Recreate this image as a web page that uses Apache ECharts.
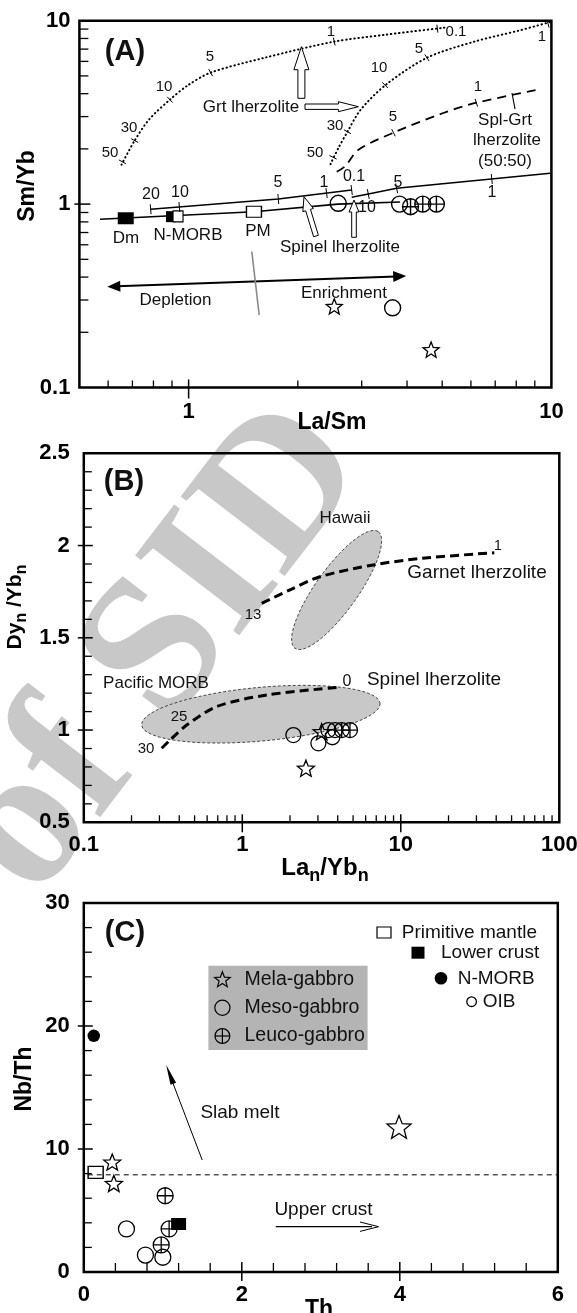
<!DOCTYPE html>
<html><head><meta charset="utf-8"><title>Sm/Yb, Dy/Yb, Nb/Th diagrams</title>
<script src="https://cdn.jsdelivr.net/npm/echarts@6.0.0/dist/echarts.min.js"></script>
<style>html,body{margin:0;padding:0;background:#fff;}#chart{width:577px;height:1313px;}</style>
</head><body><div id="chart"></div>
<script>
const FF = '"Liberation Sans", Arial, Helvetica, sans-serif';

// ================= Panel A : Sm/Yb vs La/Sm =================
const A_xLabels = [1, 10];
const A_yLabels = [0.1, 1, 10];
const A_xMinorTicks = [0.6, 0.7, 0.8, 0.9, 2, 3, 4, 5, 6, 7, 8, 9];
const A_xMajorTicks = [1];
const A_yMinorTicks = [0.2, 0.3, 0.4, 0.5, 0.6, 0.7, 0.8, 0.9, 2, 3, 4, 5, 6, 7, 8, 9];
const A_yMajorTicks = [1];
const A_dm = [[0.671, 0.837]];
const A_nmorbFilled = [[0.894, 0.854]];
const A_nmorbOpen = [[0.935, 0.857]];
const A_pm = [[1.514, 0.909]];
const A_mela = [[2.52, 0.277], [4.66, 0.161]];
const A_meso = [[2.585, 1.01], [3.815, 1.0], [3.65, 0.272]];
const A_leuco = [[4.09, 0.968], [4.42, 1.0], [4.82, 1.0]];
const A_grtCurve1 = [[0.653, 1.64], [0.710, 2.22], [0.778, 2.89], [0.888, 3.71], [0.993, 4.43], [1.15, 5.21], [1.62, 6.28], [2.52, 7.69], [3.50, 8.39], [5.07, 9.16]];
const A_grtCurve1Ticks = [[0.657, 1.70], [0.710, 2.22], [0.888, 3.71], [1.15, 5.21], [2.52, 7.69], [4.85, 9.05]];
const A_grtCurve2 = [[2.46, 1.65], [2.59, 2.03], [2.74, 2.48], [2.98, 3.27], [3.50, 4.48], [4.54, 6.28], [6.13, 7.69], [8.11, 8.82], [10, 9.88]];
const A_grtCurve2Ticks = [[2.50, 1.80], [2.74, 2.48], [3.48, 4.45], [4.54, 6.28], [9.79, 9.62]];
const A_splGrtCurve = [[2.56, 1.50], [2.70, 1.61], [2.94, 1.98], [3.67, 2.45], [4.97, 3.11], [6.21, 3.57], [9.20, 4.21]];
const A_splGrtTicks = [[3.67, 2.45], [6.21, 3.57]];
const A_splCurve1 = [[0.786, 0.937], [1.767, 1.066], [2.815, 1.194]];
const A_splCurve1Ticks = [[0.786, 0.937], [0.943, 0.964], [1.767, 1.066], [2.40, 1.149], [2.815, 1.194]];
const A_splCurve2 = [[2.815, 1.089], [3.128, 1.135], [3.745, 1.219], [9.92, 1.472]];
const A_splCurve2Ticks = [[3.128, 1.135], [3.745, 1.219], [6.85, 1.370]];
const A_mixLine = [[0.570, 0.826], [1.514, 0.909], [2.58, 1.0], [3.824, 1.027]];

// ================= Panel B : Dyn/Ybn vs Lan/Ybn =================
const B_xLabels = [0.1, 1, 10, 100];
const B_xMinorTicks = [0.2, 0.3, 0.4, 0.5, 0.6, 0.7, 0.8, 0.9, 2, 3, 4, 5, 6, 7, 8, 9, 20, 30, 40, 50, 60, 70, 80, 90];
const B_xMajorTicks = [1, 10];
const B_yMinorTicks = [0.6, 0.7, 0.8, 0.9, 1.1, 1.2, 1.3, 1.4, 1.6, 1.7, 1.8, 1.9, 2.1, 2.2, 2.3, 2.4];
const B_yMajorTicks = [1, 1.5, 2];
const B_mela = [[2.52, 0.793], [3.17, 0.991]];
const B_meso = [[2.10, 0.973], [3.02, 0.928], [3.70, 0.961], [3.49, 1.0], [3.85, 1.0]];
const B_leuco = [[4.24, 1.0], [4.78, 1.0]];
const B_grtCurve = [[1.326, 1.687], [2.0, 1.760], [3.09, 1.831], [6.71, 1.895], [13.7, 1.931], [38.9, 1.961]];
const B_splCurve = [[0.310, 0.901], [0.350, 0.946], [0.446, 1.027], [0.690, 1.127], [1.426, 1.190], [4.13, 1.232]];
// fields: two ends of the long axis, then one end of the short axis
const B_morbField = [[0.232, 1.027], [7.39, 1.145], [1.308, 1.232]];
const B_hawaiiField = [[2.15, 1.443], [7.21, 2.075], [5.05, 1.693]];

// ================= Panel C : Nb/Th vs Th =================
const C_xMinorTicks = [0.4, 0.8, 1.2, 1.6, 2.4, 2.8, 3.2, 3.6, 4.4, 4.8, 5.2, 5.6];
const C_xMajorTicks = [2, 4];
const C_yMinorTicks = [2, 4, 6, 8, 12, 14, 16, 18, 22, 24, 26, 28];
const C_yMajorTicks = [10, 20];
const C_primitiveMantle = [[0.15, 8.1]];
const C_lowerCrust = [[1.2, 3.9]];
const C_nmorb = [[0.126, 19.2]];
const C_mela = [[0.36, 8.94], [0.38, 7.2], [3.99, 11.8]];
const C_meso = [[0.54, 3.5], [0.78, 1.38], [1.0, 1.2]];
const C_leuco = [[1.03, 6.2], [1.08, 3.5], [0.98, 2.2]];
const C_refLine = [[0.05, 7.9], [6, 7.9]];

// ---------------- helpers ----------------
function starPts(cx, cy, R, r) {
  const pts = [];
  for (let k = 0; k < 10; k++) {
    const ang = -Math.PI / 2 + k * Math.PI / 5;
    const rr = k % 2 === 0 ? R : r;
    pts.push([cx + rr * Math.cos(ang), cy + rr * Math.sin(ang)]);
  }
  return pts;
}
const STAR = 'path://' + starPts(10, 10, 10, 4.3).map((p, i) => (i ? 'L' : 'M') + p[0].toFixed(2) + ',' + p[1].toFixed(2)).join('') + 'Z';
const XCIRC = 'path://M0,8A8,8,0,1,1,16,8A8,8,0,1,1,0,8ZM0,8L16,8M8,0L8,16';
const NOFILL = 'rgba(0,0,0,0)';

function labelFmt(list) {
  return function (v) {
    for (const l of list) { if (Math.abs(v - l) <= 1e-6 * Math.abs(l)) return String(l); }
    return '';
  };
}
function sc(gi, data, symbol, size, fill, bw, keep) {
  return { type: 'scatter', xAxisIndex: gi, yAxisIndex: gi, data, symbol, symbolSize: size, symbolKeepAspect: !!keep,
    itemStyle: { color: fill, borderColor: '#000', borderWidth: bw, opacity: 1 }, silent: true, z: 6, emphasis: { disabled: true } };
}
function ln(gi, data, width, type, smooth, cap) {
  return { type: 'line', xAxisIndex: gi, yAxisIndex: gi, data, symbol: 'none', smooth: smooth || false, silent: true, z: 3,
    lineStyle: { color: '#000', width, type, cap: cap || 'butt' }, emphasis: { disabled: true } };
}
function axisTicks(gi, dim, values, atValue, inLen, outLen, w) {
  return { type: 'custom', xAxisIndex: gi, yAxisIndex: gi, clip: false, silent: true, z: 8,
    data: values.map(v => dim === 'x' ? [v, atValue] : [atValue, v]),
    renderItem: function (params, api) {
      const p = api.coord([api.value(0), api.value(1)]);
      const shape = dim === 'x' ? { x1: p[0], y1: p[1] + outLen, x2: p[0], y2: p[1] - inLen }
                                : { x1: p[0] - outLen, y1: p[1], x2: p[0] + inLen, y2: p[1] };
      return { type: 'line', shape, style: { stroke: '#000', lineWidth: w } };
    } };
}
function curveTicks(gi, curve, ticks, half) {
  return { type: 'custom', xAxisIndex: gi, yAxisIndex: gi, clip: false, silent: true, z: 7,
    data: ticks,
    renderItem: function (params, api) {
      const p = api.coord([api.value(0), api.value(1)]);
      const pts = curve.map(c => api.coord(c));
      let best = [1, 0], bd = Infinity;
      for (let i = 0; i < pts.length - 1; i++) {
        const a = pts[i], b = pts[i + 1], dx = b[0] - a[0], dy = b[1] - a[1];
        const L2 = dx * dx + dy * dy || 1;
        let t = ((p[0] - a[0]) * dx + (p[1] - a[1]) * dy) / L2; t = Math.max(0, Math.min(1, t));
        const qx = a[0] + t * dx - p[0], qy = a[1] + t * dy - p[1], d = qx * qx + qy * qy;
        if (d < bd) { bd = d; best = [dx, dy]; }
      }
      const L = Math.hypot(best[0], best[1]) || 1, nx = -best[1] / L, ny = best[0] / L;
      return { type: 'line', shape: { x1: p[0] - nx * half, y1: p[1] - ny * half, x2: p[0] + nx * half, y2: p[1] + ny * half },
        style: { stroke: '#000', lineWidth: 1 } };
    } };
}
function field(gi, f) {
  return { type: 'custom', xAxisIndex: gi, yAxisIndex: gi, silent: true, z: 1,
    data: [[f[0][0], f[0][1], f[1][0], f[1][1], f[2][0], f[2][1]]],
    renderItem: function (params, api) {
      const p1 = api.coord([api.value(0), api.value(1)]);
      const p2 = api.coord([api.value(2), api.value(3)]);
      const m = api.coord([api.value(4), api.value(5)]);
      const cx = (p1[0] + p2[0]) / 2, cy = (p1[1] + p2[1]) / 2;
      const dx = p2[0] - p1[0], dy = p2[1] - p1[1];
      const a = Math.hypot(dx, dy) / 2, ux = dx / (2 * a), uy = dy / (2 * a);
      const b = Math.abs((m[0] - cx) * (-uy) + (m[1] - cy) * ux);
      const points = [];
      for (let k = 0; k < 90; k++) {
        const t = k / 90 * 2 * Math.PI, u = a * Math.cos(t), v = b * Math.sin(t);
        points.push([cx + u * ux - v * uy, cy + u * uy + v * ux]);
      }
      return { type: 'polygon', shape: { points }, style: { fill: '#c8c8c8', stroke: '#333', lineWidth: 0.9, lineDash: [3, 2] } };
    } };
}

// ---------------- graphic annotations ----------------
const G = [];
function txt(x, y, text, size, o) {
  o = o || {};
  const st = { text, fontSize: size, fontFamily: o.ff || FF, fontWeight: o.bold ? 'bold' : 'normal', fill: o.fill || '#111',
    align: o.align || 'center', verticalAlign: 'middle', textAlign: o.align || 'center', textVerticalAlign: 'middle' };
  G.push({ type: 'text', x, y, rotation: o.rot || 0, z: o.z === undefined ? 20 : o.z, silent: true, style: st });
}
const mctx = document.createElement('canvas').getContext('2d');
function textWidth(t, size) { mctx.font = 'bold ' + size + 'px ' + FF; return mctx.measureText(t).width; }
// title with subscripts: parts = [[text, isSub], ...]
function subTitle(cx, cy, parts, rot, ms, ss, dy) {
  const widths = parts.map(p => textWidth(p[0], p[1] ? ss : ms));
  const W = widths.reduce((a, b) => a + b, 0);
  let off = -W / 2;
  const children = [];
  parts.forEach((p, i) => {
    children.push({ type: 'text', x: off, y: p[1] ? dy : 0, silent: true,
      style: { text: p[0], fontSize: p[1] ? ss : ms, fontWeight: 'bold', fontFamily: FF, fill: '#000',
        align: 'left', verticalAlign: 'middle', textAlign: 'left', textVerticalAlign: 'middle' } });
    off += widths[i];
  });
  G.push({ type: 'group', x: cx, y: cy, rotation: rot || 0, z: 20, children });
}
function gline(x1, y1, x2, y2, w, color, dash) {
  G.push({ type: 'line', z: 20, silent: true, shape: { x1, y1, x2, y2 }, style: { stroke: color || '#000', lineWidth: w, lineDash: dash || null } });
}
function hollowArrow(tail, tip, headLen, headHalf, shaftHalf) {
  const dx = tip[0] - tail[0], dy = tip[1] - tail[1], L = Math.hypot(dx, dy), ux = dx / L, uy = dy / L, nx = -uy, ny = ux;
  const bx = tip[0] - ux * headLen, by = tip[1] - uy * headLen;
  const pts = [tip, [bx + nx * headHalf, by + ny * headHalf], [bx + nx * shaftHalf, by + ny * shaftHalf],
    [tail[0] + nx * shaftHalf, tail[1] + ny * shaftHalf], [tail[0] - nx * shaftHalf, tail[1] - ny * shaftHalf],
    [bx - nx * shaftHalf, by - ny * shaftHalf], [bx - nx * headHalf, by - ny * headHalf]];
  G.push({ type: 'polygon', z: 20, silent: true, shape: { points: pts }, style: { fill: '#fff', stroke: '#000', lineWidth: 1 } });
}
function headTri(from, tip, len, half) {
  const dx = tip[0] - from[0], dy = tip[1] - from[1], L = Math.hypot(dx, dy), ux = dx / L, uy = dy / L, nx = -uy, ny = ux;
  const bx = tip[0] - ux * len, by = tip[1] - uy * len;
  G.push({ type: 'polygon', z: 20, silent: true, shape: { points: [tip, [bx + nx * half, by + ny * half], [bx - nx * half, by - ny * half]] }, style: { fill: '#000' } });
}

// watermark
txt(162, 651, 'of SID', 200, { rot: 0.918, ff: '"Liberation Serif", "DejaVu Serif", serif', bold: true, fill: '#c8c8c8', z: -1 });

// ---- Panel A annotations
txt(125, 52, '(A)', 29, { bold: true });
const numA = 15;
txt(110, 153, '50', numA); txt(129, 128, '30', numA); txt(164, 87, '10', numA); txt(210, 57, '5', numA); txt(331, 32, '1', numA); txt(456, 32, '0.1', numA);
txt(315, 153, '50', numA); txt(335, 126, '30', numA); txt(379, 68, '10', numA); txt(419, 49, '5', numA); txt(542, 37, '1', numA);
txt(393, 117, '5', numA); txt(478, 87, '1', numA);
txt(151, 195, '20', 16); txt(180, 193, '10', 16); txt(278, 183, '5', 16); txt(324, 183, '1', 16); txt(354, 177, '0.1', 16);
txt(398, 183, '5', 16); txt(492, 193, '1', 16); txt(367, 208, '10', 16);
txt(251, 107, 'Grt lherzolite', 17);
txt(505, 120, 'Spl-Grt', 17); txt(507, 140, 'lherzolite', 17); txt(505, 161, '(50:50)', 17);
gline(512, 93, 515, 109, 1.2);
hollowArrow([301.4, 98.3], [301.4, 46.7], 23, 7.5, 3.5);
hollowArrow([305, 106.7], [358.4, 106.7], 20, 5, 2.7);
hollowArrow([316, 236], [304, 196.7], 14, 5.5, 2.5);
hollowArrow([354, 237.3], [354, 200], 12, 5, 2.3);
txt(126, 238, 'Dm', 17); txt(188, 235, 'N-MORB', 17); txt(258, 231, 'PM', 17); txt(340, 247, 'Spinel lherzolite', 17);
gline(117, 286.3, 396, 276.4, 2);
headTri([406.2, 276], [107.3, 286.7], 13, 5.5);
headTri([107.3, 286.7], [406.2, 276], 13, 5.5);
gline(251.8, 251.7, 259.2, 315, 1.6, '#8a8a8a');
txt(175.5, 300, 'Depletion', 17); txt(344, 293, 'Enrichment', 17);
// axis titles A
txt(332, 423, 'La/Sm', 23, { bold: true, fill: '#000' });
txt(27.6, 186, 'Sm/Yb', 23, { bold: true, fill: '#000', rot: Math.PI / 2 });

// ---- Panel B annotations
txt(124, 482, '(B)', 29, { bold: true });
txt(345, 518, 'Hawaii', 17);
txt(477, 573, 'Garnet lherzolite', 19);
txt(498, 546, '1', 14);
txt(253, 615, '13', 15);
txt(156, 683, 'Pacific MORB', 17);
txt(347, 682, '0', 16);
txt(434, 680, 'Spinel lherzolite', 19);
txt(179, 717, '25', 15);
txt(146, 749, '30', 15);
subTitle(325, 868, [['La', 0], ['n', 1], ['/Yb', 0], ['n', 1]], 0, 24, 18, 8);
subTitle(15, 607, [['Dy', 0], ['n', 1], [' /Yb', 0], ['n', 1]], Math.PI / 2, 21, 16, 7);

// ---- Panel C annotations
txt(125, 933, '(C)', 29, { bold: true });
G.push({ type: 'rect', z: 15, silent: true, shape: { x: 208.4, y: 965.7, width: 159.2, height: 84.3 }, style: { fill: '#b4b4b4' } });
G.push({ type: 'polygon', z: 20, silent: true, shape: { points: starPts(222.4, 980, 8.2, 3.5) }, style: { fill: NOFILL, stroke: '#000', lineWidth: 1.2 } });
G.push({ type: 'circle', z: 20, silent: true, shape: { cx: 222.4, cy: 1007.7, r: 7.6 }, style: { fill: NOFILL, stroke: '#000', lineWidth: 1.2 } });
G.push({ type: 'circle', z: 20, silent: true, shape: { cx: 222.4, cy: 1036, r: 7.4 }, style: { fill: NOFILL, stroke: '#000', lineWidth: 1.2 } });
gline(215, 1036, 229.8, 1036, 1.2); gline(222.4, 1028.6, 222.4, 1043.4, 1.2);
txt(244.5, 979.3, 'Mela-gabbro', 19.5, { align: 'left' });
txt(244.5, 1007.7, 'Meso-gabbro', 19.5, { align: 'left' });
txt(244.5, 1036, 'Leuco-gabbro', 19.5, { align: 'left' });
G.push({ type: 'rect', z: 20, silent: true, shape: { x: 377, y: 927, width: 14, height: 11 }, style: { fill: '#fff', stroke: '#000', lineWidth: 1.2 } });
G.push({ type: 'rect', z: 20, silent: true, shape: { x: 411.5, y: 946.7, width: 13, height: 12 }, style: { fill: '#000' } });
G.push({ type: 'circle', z: 20, silent: true, shape: { cx: 441, cy: 978.3, r: 6.3 }, style: { fill: '#000' } });
G.push({ type: 'circle', z: 20, silent: true, shape: { cx: 471.6, cy: 1001.7, r: 4.8 }, style: { fill: '#fff', stroke: '#000', lineWidth: 1.3 } });
txt(401.8, 932.3, 'Primitive mantle', 19, { align: 'left' });
txt(441, 952.7, 'Lower crust', 19, { align: 'left' });
txt(457.7, 978.3, 'N-MORB', 19, { align: 'left' });
txt(482.7, 1001.7, 'OIB', 19, { align: 'left' });
gline(202.2, 1160, 168.5, 1071.5, 1);
headTri([202.2, 1160], [166.2, 1065], 20, 3);
txt(240, 1113, 'Slab melt', 19);
gline(275.7, 1226.7, 372, 1226.7, 1.2);
G.push({ type: 'polyline', z: 20, silent: true, shape: { points: [[360, 1222], [378.6, 1226.7], [360, 1231.4]] }, style: { stroke: '#000', lineWidth: 1, fill: null } });
txt(323.5, 1210, 'Upper crust', 19);
txt(319, 1310, 'Th', 23, { bold: true, fill: '#000' });
txt(24.8, 1079, 'Nb/Th', 23, { bold: true, fill: '#000', rot: Math.PI / 2 });

// ---------------- chart option ----------------
const tickLabel = (margin, fmt) => ({ margin, fontSize: 22, fontWeight: 'bold', fontFamily: FF, color: '#000', showMinLabel: true, showMaxLabel: true, hideOverlap: false, formatter: fmt });
const bareAxis = { axisLine: { show: false }, axisTick: { show: false }, minorTick: { show: false }, splitLine: { show: false }, minorSplitLine: { show: false } };
const gridBox = { show: true, borderColor: '#000', borderWidth: 2.5, backgroundColor: 'rgba(0,0,0,0)', containLabel: false, outerBoundsMode: 'none' };

const option = {
  animation: false,
  backgroundColor: '#fff',
  grid: [
    Object.assign({ left: 79.4, top: 20.7, width: 472, height: 366.8 }, gridBox),
    Object.assign({ left: 83.8, top: 453.3, width: 475.5, height: 369 }, gridBox),
    Object.assign({ left: 83.8, top: 903, width: 474, height: 369 }, gridBox)
  ],
  xAxis: [
    Object.assign({ gridIndex: 0, type: 'log', logBase: 10, min: 0.5, max: 10, axisLabel: tickLabel(13, labelFmt(A_xLabels)) }, bareAxis),
    Object.assign({ gridIndex: 1, type: 'log', logBase: 10, min: 0.1, max: 100, axisLabel: tickLabel(12, labelFmt(B_xLabels)) }, bareAxis),
    Object.assign({ gridIndex: 2, type: 'value', min: 0, max: 6, interval: 2, axisLabel: tickLabel(12) }, bareAxis)
  ],
  yAxis: [
    Object.assign({ gridIndex: 0, type: 'log', logBase: 10, min: 0.1, max: 10, axisLabel: tickLabel(9, labelFmt(A_yLabels)) }, bareAxis),
    Object.assign({ gridIndex: 1, type: 'value', min: 0.5, max: 2.5, interval: 0.5, axisLabel: tickLabel(14) }, bareAxis),
    Object.assign({ gridIndex: 2, type: 'value', min: 0, max: 30, interval: 10, axisLabel: tickLabel(14) }, bareAxis)
  ],
  graphic: { elements: G },
  series: [
    // axis ticks
    axisTicks(0, 'x', A_xMinorTicks, 0.1, 7, 0, 1.3), axisTicks(0, 'x', A_xMajorTicks, 0.1, 8, 11, 1.5),
    axisTicks(0, 'y', A_yMinorTicks, 0.5, 9, 0, 1.3), axisTicks(0, 'y', A_yMajorTicks, 0.5, 11, 5, 1.5),
    axisTicks(1, 'x', B_xMinorTicks, 0.5, 7, 0, 1.3), axisTicks(1, 'x', B_xMajorTicks, 0.5, 8, 10, 1.5),
    axisTicks(1, 'y', B_yMinorTicks, 0.1, 8, 0, 1.3), axisTicks(1, 'y', B_yMajorTicks, 0.1, 9, 6, 1.5),
    axisTicks(2, 'x', C_xMinorTicks, 0, 9, 0, 1.3), axisTicks(2, 'x', C_xMajorTicks, 0, 10, 9, 1.5),
    axisTicks(2, 'y', C_yMinorTicks, 0, 8, 0, 1.3), axisTicks(2, 'y', C_yMajorTicks, 0, 9, 6, 1.5),
    // Panel A curves
    ln(0, A_grtCurve1, 2, [0.5, 3.6], 0.3, 'round'),
    ln(0, A_grtCurve2, 2, [0.5, 3.6], 0.3, 'round'),
    ln(0, A_splGrtCurve, 1.8, [9, 6], 0.3),
    ln(0, A_splCurve1, 1.6, 'solid'),
    ln(0, A_splCurve2, 1.6, 'solid'),
    ln(0, A_mixLine, 1.6, 'solid'),
    curveTicks(0, A_grtCurve1, A_grtCurve1Ticks, 4),
    curveTicks(0, A_grtCurve2, A_grtCurve2Ticks, 4),
    curveTicks(0, A_splGrtCurve, A_splGrtTicks, 4),
    curveTicks(0, A_splCurve1, A_splCurve1Ticks, 5),
    curveTicks(0, A_splCurve2, A_splCurve2Ticks, 5),
    sc(0, A_dm, 'rect', [16, 12], '#000', 0),
    sc(0, A_nmorbFilled, 'rect', [10, 11], '#000', 0),
    sc(0, A_nmorbOpen, 'rect', [10, 11], '#fff', 1.2),
    sc(0, A_pm, 'rect', [15, 11], '#fff', 1.2),
    sc(0, A_mela, STAR, [16, 16], NOFILL, 1.3, true),
    sc(0, A_meso, 'circle', 16, NOFILL, 1.4),
    sc(0, A_leuco, XCIRC, [16, 16], NOFILL, 1.4),
    // Panel B
    field(1, B_morbField),
    field(1, B_hawaiiField),
    ln(1, B_grtCurve, 3, [9, 5], 0.3),
    ln(1, B_splCurve, 3, [9, 5], 0.3),
    sc(1, B_meso, 'circle', 15, NOFILL, 1.3),
    sc(1, B_leuco, XCIRC, [15, 15], NOFILL, 1.3),
    sc(1, B_mela, STAR, [17, 17], NOFILL, 1.3, true),
    // Panel C
    ln(2, C_refLine, 1, [5, 4]),
    sc(2, C_primitiveMantle, 'rect', [15, 12], NOFILL, 1.3),
    sc(2, C_lowerCrust, 'rect', [15, 12], '#000', 0),
    sc(2, C_nmorb, 'circle', 12.5, '#000', 0),
    sc(2, C_meso, 'circle', 16, NOFILL, 1.3),
    sc(2, C_leuco, XCIRC, [16, 16], NOFILL, 1.3),
    sc(2, C_mela.slice(0, 2), STAR, [17, 17], NOFILL, 1.3, true),
    sc(2, C_mela.slice(2), STAR, [24, 24], NOFILL, 1.3, true)
  ]
};
const chart = echarts.init(document.getElementById('chart'), null, { renderer: 'canvas' });
chart.setOption(option);
</script></body></html>
